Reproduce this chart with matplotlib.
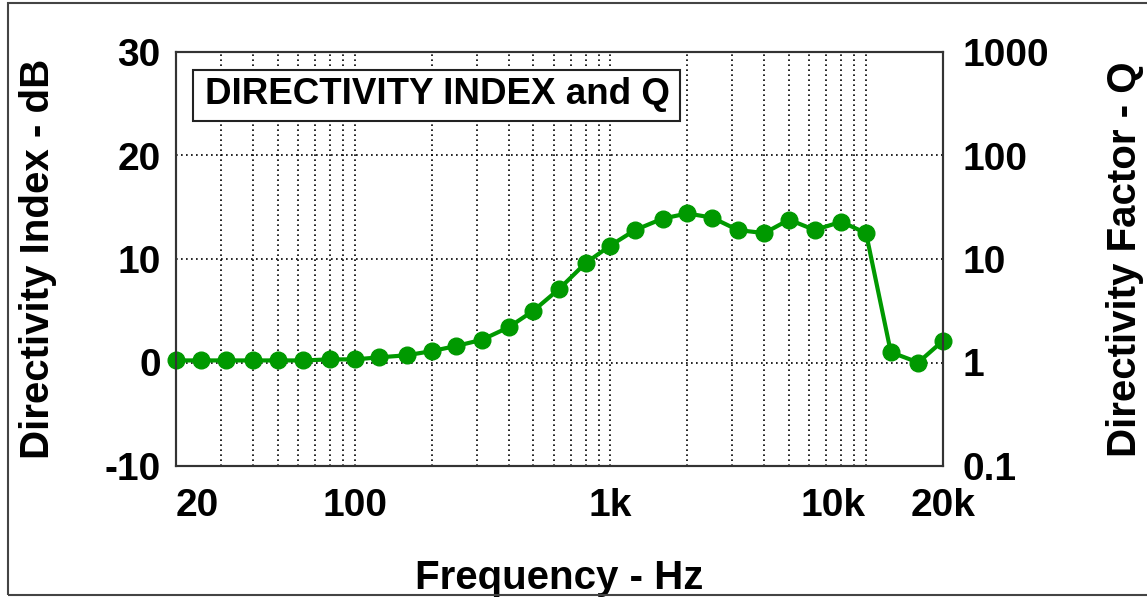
import matplotlib
matplotlib.use('Agg')
import matplotlib.pyplot as plt
from matplotlib.patches import Rectangle
from matplotlib.ticker import NullLocator

# Frequencias em terco de oitava (Hz)
freqs = [20, 25, 31.5, 40, 50, 63, 80, 100, 125, 160, 200, 250, 315, 400, 500,
         630, 800, 1000, 1250, 1600, 2000, 2500, 3150, 4000, 5000, 6300, 8000,
         10000, 12500, 16000, 20000]
# Indice de diretividade (dB)
di = [0.2, 0.2, 0.2, 0.2, 0.2, 0.2, 0.3, 0.3, 0.5, 0.7, 1.1, 1.6, 2.2, 3.4, 5.0,
      7.1, 9.6, 11.3, 12.8, 13.9, 14.4, 14.0, 12.8, 12.5, 13.8, 12.8, 13.6,
      12.5, 1.0, 0.0, 2.1]

xticks = [20, 100, 1000, 10000, 20000]
xticklabels = ['20', '100', '1k', '10k', '20k']
yticks = [-10, 0, 10, 20, 30]
qticks = [0.1, 1, 10, 100, 1000]
qticklabels = ['0.1', '1', '10', '100', '1000']

plt.rcParams['font.family'] = 'Liberation Sans'
plt.rcParams['font.weight'] = 'bold'
plt.rcParams['axes.unicode_minus'] = False

fig = plt.figure(figsize=(11.47, 5.98), dpi=100)
ax = fig.add_axes([176/1147, 1-466/598, 767/1147, 414/598])

# Curva verde
ax.plot(freqs, di, '-o', color='#009900', lw=3, ms=12, zorder=3, clip_on=False)

ax.set_xscale('log')
ax.set_xlim(20, 20000)
ax.set_ylim(-10, 30)
ax.set_xticks(xticks)
ax.set_xticklabels(xticklabels)
ax.set_yticks(yticks)
ax.tick_params(axis='both', which='both', length=0, labelsize=28)
ax.tick_params(axis='x', pad=16)
ax.tick_params(axis='y', pad=11)
lbls = ax.get_xticklabels()
lbls[0].set_ha('left')
lbls[3].set_ha('right')

# Grade pontilhada
ax.grid(True, which='both', axis='x', color='black', ls=(0, (1, 2)), lw=1.2)
ax.grid(True, which='major', axis='y', color='black', ls=(0, (1, 2)), lw=1.2)
for s in ax.spines.values():
    s.set_color('#333333')
    s.set_linewidth(1.5)

ax.set_xlabel('Frequency - Hz', fontsize=29, fontweight='bold')
ax.xaxis.set_label_coords(0.5, -0.225)
ax.set_ylabel('Directivity Index - dB', fontsize=29, fontweight='bold')
ax.yaxis.set_label_coords(-0.155, 0.5)

# Eixo da direita (Q)
ax2 = ax.twinx()
ax2.set_yscale('log')
ax2.set_ylim(0.1, 1000)
ax2.set_yticks(qticks)
ax2.set_yticklabels(qticklabels)
ax2.yaxis.set_minor_locator(NullLocator())
ax2.tick_params(axis='y', which='both', length=0, labelsize=28, pad=14)
ax2.set_ylabel('Directivity Factor - Q', fontsize=29, fontweight='bold')
ax2.yaxis.set_label_coords(1.212, 0.5)
for s in ax2.spines.values():
    s.set_color('#333333')
    s.set_linewidth(1.5)

# Caixa do titulo
ax.add_patch(Rectangle((0.022, 0.833), 0.635, 0.1235, transform=ax.transAxes,
                       facecolor='white', edgecolor='#222222', lw=1.5, zorder=4))
ax.text(0.341, 0.874, 'DIRECTIVITY INDEX and Q', transform=ax.transAxes,
        ha='center', va='baseline', fontsize=26.5, fontweight='bold', zorder=5)

# Moldura da figura
fig.patches.append(Rectangle((8/1147, 3/598), 1.1, 592/598, transform=fig.transFigure,
                             fill=False, edgecolor='#444444', lw=1.5))

fig.savefig('out.png', dpi=100)
